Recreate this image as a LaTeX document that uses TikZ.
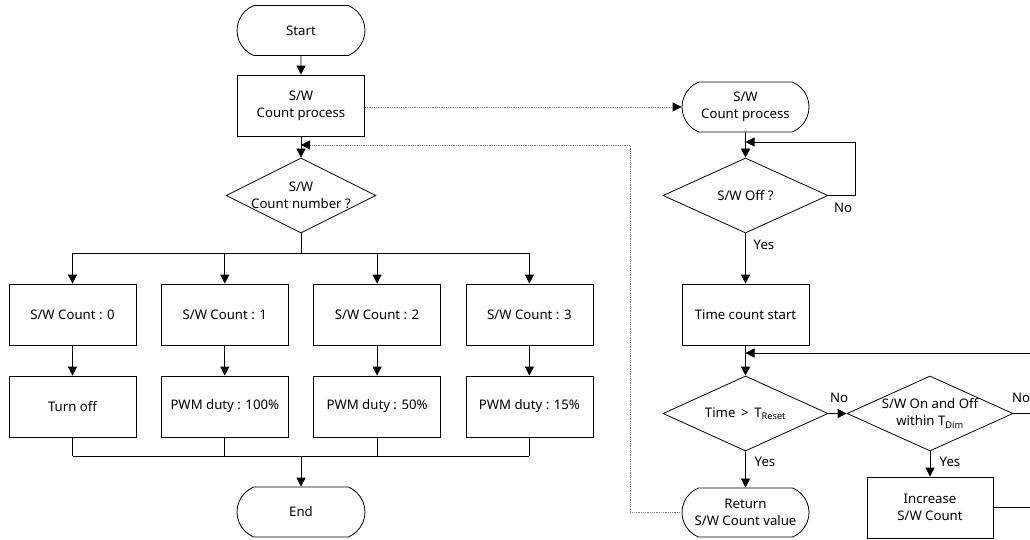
\documentclass[tikz,border=0pt]{standalone}
\usepackage{fontspec}
\setmainfont{Noto Sans}
\usetikzlibrary{shapes.geometric,shapes.misc,arrows.meta}
\begin{document}
\begin{tikzpicture}[x=1pt,y=-1pt,
  every node/.style={font=\fontsize{13.2}{17}\selectfont, align=center, inner sep=0pt},
  line/.style={draw=black, line width=0.8pt},
  arr/.style={line, -{Triangle[length=9pt,width=9pt]}},
  dots/.style={draw=gray, line width=0.8pt, densely dotted, -{Triangle[length=9pt,width=9pt,color=black]}},
  box/.style={draw, line width=0.8pt, rectangle, minimum width=127pt, minimum height=61pt},
  term/.style={draw, line width=0.8pt, rounded rectangle, rounded rectangle arc length=135, minimum width=128pt, minimum height=50pt},
  dia/.style={draw, line width=0.8pt, diamond, minimum width=#1, minimum height=75pt},
  lbl/.style={font=\fontsize{13.2}{16}\selectfont}
]
\useasboundingbox (0,0) rectangle (1030,540);
\clip (0,0) rectangle (1030,540);
\fill[white] (0,0) rectangle (1030,540);

% left column
\node[term] (start) at (301,30.5) {Start};
\node[box] (proc) at (301,105.5) {S/W\\Count process};
\node[dia=150pt] (cnum) at (301,195.5) {};
\node (cnumT) at (cnum.center) {S/W\\Count number ?};

\node[box] (b0) at (72.5,314.5) {S/W Count : 0};
\node[box] (b1) at (224.8,314.5) {S/W Count : 1};
\node[box] (b2) at (377.1,314.5) {S/W Count : 2};
\node[box] (b3) at (529.4,314.5) {S/W Count : 3};
\node[box] (p0) at (72.5,406.5) {Turn off};
\node[box] (p1) at (224.8,406.5) {PWM duty : 100\%};
\node[box] (p2) at (377.1,406.5) {PWM duty : 50\%};
\node[box] (p3) at (529.4,406.5) {PWM duty : 15\%};
\node[term] (endn) at (301,512) {End};

\draw[arr] (start) -- (proc);
\draw[arr] (proc) -- (cnum);
\draw[line] (cnum.south) -- (cnum.south |- 0,253);
\draw[line] (b0.north |- 0,253) -- (b3.north |- 0,253);
\foreach \i in {0,1,2,3}{
  \draw[arr] (b\i.north |- 0,253) -- (b\i.north);
  \draw[arr] (b\i) -- (p\i);
  \draw[line] (p\i.south) -- (p\i.south |- 0,456);
}
\draw[line] (p0.south |- 0,456) -- (p3.south |- 0,456);
\draw[arr] (endn.north |- 0,456) -- (endn.north);

% right column
\node[term, minimum width=127pt] (rproc) at (745.5,107) {S/W\\Count process};
\node[dia=165pt] (off) at (745.5,195.5) {};
\node (offT) at (off.center) {S/W Off ?};
\node[box] (tcs) at (745.5,314.5) {Time count start};
\node[dia=165pt] (tr) at (745.5,413.5) {};
\node (trT) at (tr.center) {Time \,>\, T\textsubscript{Reset}};
\node[dia=166pt] (td) at (930,413.5) {};
\node (tdT) at (td.center) {S/W On and Off\\within T\textsubscript{Dim}};
\node[term, minimum width=127pt, minimum height=49pt] (ret) at (745.5,512.5) {Return\\S/W Count value};
\node[box, minimum width=126pt] (inc) at (930,507.5) {Increase\\S/W Count};

\draw[dots] (proc.east |- rproc.west) -- (rproc.west);
\draw[arr] (rproc) -- (off);
\draw[arr] (off.east) -| (855,142) -- (rproc.south |- 0,142);
\node[lbl] (no1) at (843,208) {No};
\draw[arr] (off) -- (tcs);
\node[lbl] (yes1) at (764,245) {Yes};
\draw[arr] (tcs) -- (tr);
\draw[arr] (tr) -- (td);
\node[lbl] (no2) at (839,398) {No};
\draw[arr] (tr) -- (ret);
\node[lbl] (yes2) at (765,462) {Yes};
\draw[arr] (td) -- (inc);
\node[lbl] (yes3) at (950,462) {Yes};
\draw[line] (td.east) -- (1040,413.5);
\node[lbl] (no3) at (1021,398) {No};
\draw[arr] (inc.east) -- (1040,507.5) -- (1040,353) -- (tcs.south |- 0,353);
\draw[dots] (ret.west) -- (630,512.5) -- (630,145) -- (proc.south |- 0,145);
\end{tikzpicture}
\end{document}
